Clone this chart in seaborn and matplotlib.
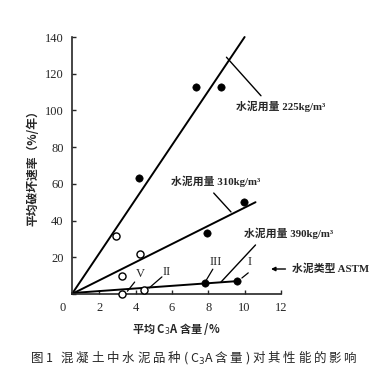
import matplotlib
matplotlib.use("Agg")
import matplotlib.pyplot as plt
import seaborn as sns

# fitted lines for each cement dosage (kg/m3)
line_225_x = [0.5, 10.0]
line_225_y = [0, 140]
line_310_x = [0.5, 10.6]
line_310_y = [0, 50]
line_390_x = [0.5, 9.6]
line_390_y = [0.5, 7]

# measured points
filled_x = [7.35, 8.7, 4.2, 9.95, 7.95, 7.8, 9.6]
filled_y = [113, 113, 63, 50, 33, 6, 7]
open_x = [2.9, 4.25, 3.25, 3.25, 4.45]
open_y = [31.5, 22, 10, 0, 2]

x_ticks = [2, 4, 6, 8, 10, 12]
y_ticks = [0, 20, 40, 60, 80, 100, 120, 140]

sns.set_style("ticks")
plt.rcParams["font.family"] = ["Liberation Serif", "Noto Sans CJK SC"]
plt.rcParams["xtick.direction"] = "in"
plt.rcParams["ytick.direction"] = "in"

fig = plt.figure(figsize=(3.87, 3.74), dpi=100)
ax = fig.add_axes([0.186, 0.214, 0.540, 0.687])

for lx, ly in [(line_225_x, line_225_y), (line_310_x, line_310_y), (line_390_x, line_390_y)]:
    sns.lineplot(x=lx, y=ly, ax=ax, color="black", linewidth=1.4, clip_on=False)

sns.scatterplot(x=filled_x, y=filled_y, ax=ax, color="black", s=28,
                edgecolor="black", clip_on=False, zorder=5)
sns.scatterplot(x=open_x, y=open_y, ax=ax, facecolor="white", s=26,
                edgecolor="black", linewidth=1.0, clip_on=False, zorder=5)

ax.set_xlim(0.5, 12)
ax.set_ylim(0, 140)
ax.set_xticks(x_ticks)
ax.set_yticks(y_ticks)
ax.tick_params(labelsize=9, length=3, width=1, pad=6)
for s in ["top", "right"]:
    ax.spines[s].set_visible(False)
for s in ["left", "bottom"]:
    ax.spines[s].set_linewidth(1.2)
ax.set_yticklabels([""] + [str(v) for v in y_ticks[1:]])
ax.text(0, -4.5, "0", ha="center", va="top", fontsize=9, clip_on=False)

cjk = ["Noto Sans CJK SC", "Liberation Serif"]
mix = ["Liberation Serif", "Noto Sans CJK SC"]
ax.set_xlabel("平均 C$_3$A 含量 /%", fontsize=8, fontweight="bold", family=cjk, labelpad=5)
ax.set_ylabel("平均破坏速率（%/年）", fontsize=8.5, fontweight="bold", family=cjk, labelpad=4)

# dosage labels with leader lines
ax.plot([9.0, 10.9], [129, 108], color="black", lw=1, clip_on=False)
ax.text(9.55, 102, "水泥用量 225kg/m³", fontsize=7.8, fontweight="bold", family=mix,
        va="center", clip_on=False)
ax.plot([8.3, 9.25], [55, 44.7], color="black", lw=1, clip_on=False)
ax.text(5.95, 61.5, "水泥用量 310kg/m³", fontsize=7.8, fontweight="bold", family=mix,
        va="center", clip_on=False)
ax.plot([10.6, 8.7], [26.7, 6.5], color="black", lw=1, clip_on=False)
ax.text(9.95, 33, "水泥用量 390kg/m³", fontsize=7.8, fontweight="bold", family=mix,
        va="center", clip_on=False)

# ASTM type labels
for lab, tx, ty, x0, y0, x1, y1 in [("V", 4.25, 11, 3.95, 6.5, 3.55, 1.5),
                                      ("II", 5.7, 12, 5.45, 9.3, 4.75, 3.3),
                                      ("III", 8.4, 17.5, 8.25, 13.5, 7.9, 7.7),
                                      ("I", 10.3, 17.5, 10.2, 11.5, 9.85, 8.7)]:
    ax.text(tx, ty, lab, fontsize=9, ha="center", va="center", clip_on=False)
    ax.plot([x0, x1], [y0, y1], color="black", lw=0.9, clip_on=False)

ax.annotate("", xy=(11.3, 13.6), xytext=(12.4, 13.6),
            arrowprops=dict(arrowstyle="-|>", color="black", lw=1, mutation_scale=6),
            annotation_clip=False)
ax.text(12.6, 13.6, "水泥类型 ASTM", fontsize=7.8, fontweight="bold", family=mix,
        va="center", clip_on=False)

caption = "图 1   混 凝 土 中 水 泥 品 种 ( C$_3$A 含 量 ) 对 其 性 能 的 影 响"
fig.text(0.5, 0.045, caption, ha="center", va="center", fontsize=9, family=cjk)

fig.savefig("out.png", dpi=100)
